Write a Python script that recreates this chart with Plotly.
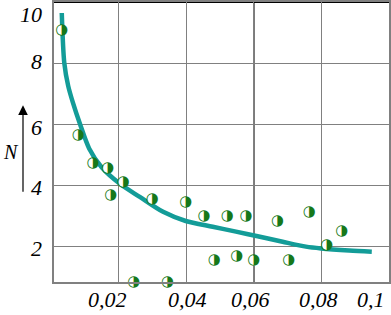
import plotly.graph_objects as go

# Experimental points
pts_x = [0.0031, 0.0080, 0.0124, 0.0167, 0.0213, 0.0176, 0.0299, 0.0398, 0.0452, 0.0521,
         0.0577, 0.0483, 0.0549, 0.0600, 0.0244, 0.0344, 0.0670, 0.0764, 0.0860, 0.0816, 0.0703]
pts_n = [9.08, 5.64, 4.70, 4.55, 4.10, 3.68, 3.53, 3.43, 2.98, 2.98,
         2.98, 1.52, 1.65, 1.52, 0.82, 0.82, 2.82, 3.12, 2.50, 2.03, 1.52]

# Fitted curve
curve_x = [0.0031, 0.00385, 0.0050, 0.0064, 0.0085, 0.0112, 0.0149, 0.0203,
           0.0262, 0.0331, 0.0398, 0.0478, 0.0547, 0.0611, 0.0685,
           0.0754, 0.0799, 0.0882, 0.0949]
curve_n = [9.64, 8.00, 7.25, 6.70, 6.00, 5.20, 4.58, 4.04,
           3.61, 3.12, 2.82, 2.63, 2.47, 2.32, 2.14,
           1.98, 1.92, 1.85, 1.81]

x_ticks = [0.02, 0.04, 0.06, 0.08, 0.1]
x_tick_text = ["0,02", "0,04", "0,06", "0,08", "0,1"]
y_ticks = [2, 4, 6, 8, 10]
y_tick_text = ["2", "4", "6", "8", "10"]

FONT = "Liberation Serif, Times New Roman, serif"
GREEN = "#16781a"
TEAL = "#139c98"

fig = go.Figure()
fig.add_trace(go.Scatter(
    x=curve_x, y=curve_n, mode="lines",
    line=dict(color=TEAL, width=4.5, shape="spline", smoothing=0.8),
    hoverinfo="skip", showlegend=False))
fig.add_trace(go.Scatter(
    x=pts_x, y=pts_n, mode="markers+text", text=["◑"] * len(pts_x),
    textposition="middle center",
    textfont=dict(family="DejaVu Sans", size=15, color=GREEN),
    marker=dict(symbol="circle", size=10, color="white", line=dict(color="#1a3a1a", width=0)),
    cliponaxis=False, showlegend=False))

xshifts = [-11, 1, -3, -3, -18]
annotations = []
for v, t, s in zip(x_ticks, x_tick_text, xshifts):
    annotations.append(dict(x=v, y=0, xref="x", yref="paper", text=t, showarrow=False,
                            xanchor="center", yanchor="top", xshift=s, yshift=-3,
                            font=dict(family=FONT, size=22, color="black", style="italic")))
yshifts = [-2, -2, -3, 2, -12]
for v, t, s in zip(y_ticks, y_tick_text, yshifts):
    annotations.append(dict(x=0, y=v, xref="paper", yref="y", text=t, showarrow=False,
                            xanchor="right", yanchor="middle", xshift=-10, yshift=s,
                            font=dict(family=FONT, size=22, color="black", style="italic")))
annotations.append(dict(x=0, y=0.5, xref="paper", yref="paper", text="N", showarrow=False,
                        xanchor="center", yanchor="middle", xshift=-43, yshift=-10,
                        font=dict(family=FONT, size=20, color="black", style="italic")))
# Arrow next to N
annotations.append(dict(x=0, y=0.631, xref="paper", yref="paper", ax=0, ay=88,
                        axref="pixel", ayref="pixel", xshift=-31, text="", showarrow=True,
                        arrowhead=2, arrowsize=1.6, arrowwidth=1.2, arrowcolor="black",
                        standoff=0, startstandoff=0))

shapes = [
    dict(type="line", xref="x", yref="paper", x0=0.06, x1=0.06, y0=0, y1=1,
         line=dict(color="black", width=1.2), layer="below"),
    dict(type="line", xref="paper", yref="paper", x0=0, x1=1, y0=1, y1=1,
         line=dict(color="black", width=2), layer="below"),
]

fig.update_layout(
    width=391, height=315, margin=dict(l=54, r=1, t=0, b=33),
    paper_bgcolor="white", plot_bgcolor="white",
    annotations=annotations, shapes=shapes,
    xaxis=dict(range=[0.0008, 0.1], tickvals=x_ticks[:-1], showticklabels=False,
               showgrid=True, gridcolor="#808080", gridwidth=1.2, zeroline=False,
               showline=True, linecolor="#808080", linewidth=1.5, mirror=True, ticks=""),
    yaxis=dict(range=[0.82, 10], tickvals=y_ticks[:-1], showticklabels=False,
               showgrid=True, gridcolor="#808080", gridwidth=1.2, zeroline=False,
               showline=True, linecolor="#808080", linewidth=1.5, mirror=True, ticks=""),
)

fig.write_html("out.html", config={"displayModeBar": False},
               post_script="document.body.style.margin='0';document.body.style.padding='0';")
